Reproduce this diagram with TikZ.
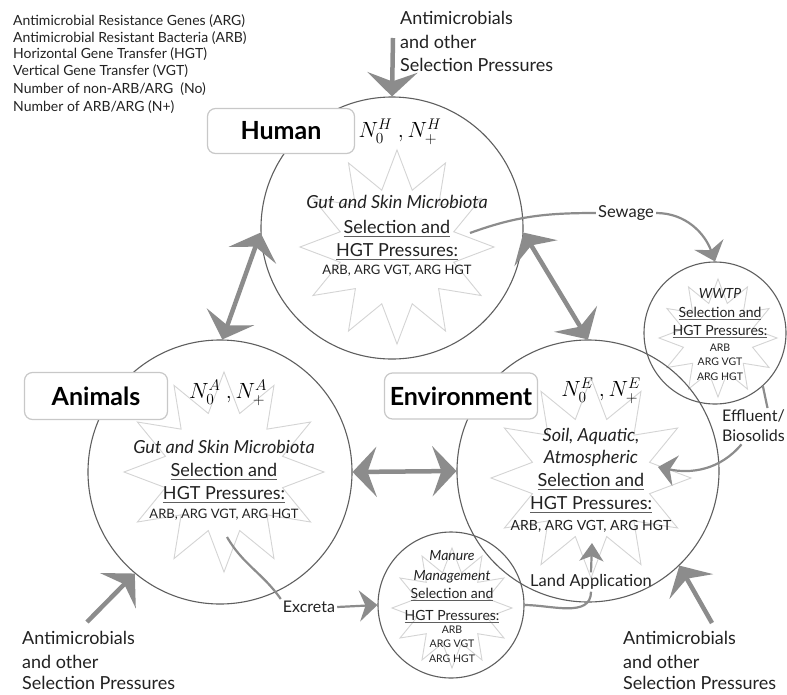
\RequirePackage{fix-cm}
\documentclass[tikz,border=0pt]{standalone}
\usepackage{fontspec}
\setmainfont{Lato}
\usetikzlibrary{arrows.meta,shapes.geometric}
\definecolor{agray}{RGB}{140,140,140}
\definecolor{cgray}{RGB}{95,95,95}
\definecolor{bgray}{RGB}{200,200,200}
\definecolor{sgray}{RGB}{212,212,212}
\definecolor{tcol}{RGB}{34,34,34}
\newcommand{\fsz}[1]{\fontsize{#1}{#1}\selectfont}
\newcommand{\ulbig}[1]{\leavevmode\setbox0\hbox{#1}\rlap{\color{cgray}\rule[-4pt]{\wd0}{1.3pt}}\box0}
\newcommand{\ulsmall}[1]{\leavevmode\setbox0\hbox{#1}\rlap{\color{cgray}\rule[-3pt]{\wd0}{1pt}}\box0}
\tikzset{
  bigarrow/.style={draw=agray,line width=4.5pt,-{Stealth[length=24pt,width=50pt,inset=9pt]}},
  bigdouble/.style={draw=agray,line width=4.5pt,{Stealth[length=24pt,width=50pt,inset=9pt]}-{Stealth[length=24pt,width=50pt,inset=9pt]}},
  flow/.style={draw=agray,line width=2.2pt,-{Stealth[length=18pt,width=31pt,inset=6pt]}},
  flowsmall/.style={draw=agray,line width=2.2pt,-{Stealth[length=18pt,width=24pt,inset=5pt]}},
  flowline/.style={draw=agray,line width=2.2pt},
  ring/.style={circle,draw=cgray,line width=1.1pt,inner sep=0pt},
  burst/.style={star,star points=12,star point ratio=1.65,draw=sgray,line width=0.9pt,inner sep=0pt},
  tag/.style={rounded corners=8pt,draw=bgray,line width=1.2pt,fill=white,inner sep=0pt,font=\fsz{25}\bfseries,text=black},
  lbl/.style={anchor=base,inner sep=0pt,text=tcol},
  lblw/.style={anchor=base west,inner sep=0pt,text=tcol},
  nlab/.style={inner sep=0pt,text=black,font=\fsz{22}},
  conn/.style={inner sep=2pt,text=tcol,font=\fsz{16.5}},
}
\begin{document}
\begin{tikzpicture}[x=1pt,y=-1pt]
\path[use as bounding box,fill=white] (0,0) rectangle (787,694);

% stars
\node[burst,minimum size=194pt] (hstar) at (397,247) {};
\node[burst,minimum size=200pt] (astar) at (224,472) {};
\node[burst,minimum size=200pt] (estar) at (591,478) {};
\node[burst,minimum size=118pt] (wstar) at (718,338) {};
\node[burst,minimum size=120pt] (mstar) at (452,608) {};

% circles
\node[ring,minimum size=262pt] (human) at (392,228) {};
\node[ring,minimum size=264pt] (animals) at (220,472) {};
\node[ring,minimum size=262pt] (env) at (588,471) {};
\node[ring,minimum size=142pt] (wwtp) at (715,333) {};
\node[ring,minimum size=146pt] (manure) at (451,605) {};

% boxes
\node[tag,minimum width=147pt,minimum height=45pt] (hbox) at (281,131) {Human};
\node[tag,minimum width=143pt,minimum height=47pt] (abox) at (96,396) {Animals};
\node[tag,minimum width=153pt,minimum height=46pt] (ebox) at (461,396) {Environment};

% N labels
\node[nlab] (hn) at (400,132) {$N_0^H\ ,N_+^H$};
\node[nlab] (an) at (228,393) {$N_0^A\ ,N_+^A$};
\node[nlab] (en) at (601,391) {$N_0^E\ ,N_+^E$};

% human text
\node[lbl,font=\fsz{18}\itshape] (h1) at (397,208) {Gut and Skin Microbiota};
\node[lbl,font=\fsz{18}] (h2) at (397,233) {\ulbig{Selection and}};
\node[lbl,font=\fsz{18}] (h3) at (397,256) {\ulbig{HGT Pressures:}};
\node[lbl,font=\fsz{13}] (h4) at (397,274) {ARB, ARG VGT, ARG HGT};

% animals text
\node[lbl,font=\fsz{18}\itshape] (a1) at (224,453) {Gut and Skin Microbiota};
\node[lbl,font=\fsz{18}] (a2) at (224,476) {\ulbig{Selection and}};
\node[lbl,font=\fsz{18}] (a3) at (224,499) {\ulbig{HGT Pressures:}};
\node[lbl,font=\fsz{13}] (a4) at (224,518) {ARB, ARG VGT, ARG HGT};

% environment text
\node[lbl,font=\fsz{18}\itshape] (e1) at (591,441) {Soil, Aquatic,};
\node[lbl,font=\fsz{18}\itshape] (e2) at (591,463) {Atmospheric};
\node[lbl,font=\fsz{18}] (e3) at (591,486) {\ulbig{Selection and}};
\node[lbl,font=\fsz{18}] (e4) at (591,509) {\ulbig{HGT Pressures:}};
\node[lbl,font=\fsz{14}] (e5) at (591,530) {ARB, ARG VGT, ARG HGT};

% wwtp text
\node[lbl,font=\fsz{14}\itshape] (w1) at (720,298) {WWTP};
\node[lbl,font=\fsz{14}] (w2) at (720,317) {\ulsmall{Selection and}};
\node[lbl,font=\fsz{14}] (w3) at (720,335) {\ulsmall{HGT Pressures:}};
\node[lbl,font=\fsz{10.5}] (w4) at (720,351) {ARB};
\node[lbl,font=\fsz{10.5}] (w5) at (720,365) {ARG VGT};
\node[lbl,font=\fsz{10.5}] (w6) at (720,380) {ARG HGT};

% manure text
\node[lbl,font=\fsz{14}\itshape] (m1) at (452,560) {Manure};
\node[lbl,font=\fsz{14}\itshape] (m2) at (452,580) {Management};
\node[lbl,font=\fsz{14}] (m3) at (452,598) {\ulsmall{Selection and}};
\node[lbl,font=\fsz{14}] (m4) at (452,620) {\ulsmall{HGT Pressures:}};
\node[lbl,font=\fsz{10.5}] (m5) at (452,633) {ARB};
\node[lbl,font=\fsz{10.5}] (m6) at (452,647) {ARG VGT};
\node[lbl,font=\fsz{10.5}] (m7) at (452,662) {ARG HGT};

% legend
\node[lblw,font=\fsz{14}] (g1) at (13,25) {Antimicrobial Resistance Genes (ARG)};
\node[lblw,font=\fsz{14}] (g2) at (13,42.5) {Antimicrobial Resistant Bacteria (ARB)};
\node[lblw,font=\fsz{14}] (g3) at (13,58.5) {Horizontal Gene Transfer (HGT)};
\node[lblw,font=\fsz{14}] (g4) at (13,75.5) {Vertical Gene Transfer (VGT)};
\node[lblw,font=\fsz{14}] (g5) at (13,93) {Number of non-ARB/ARG\ \ (No)};
\node[lblw,font=\fsz{14}] (g6) at (13,111) {Number of ARB/ARG (N+)};

% pressure labels
\node[lblw,font=\fsz{18}] (t1) at (400,24.5) {Antimicrobials};
\node[lblw,font=\fsz{18}] (t2) at (400,48.5) {and other};
\node[lblw,font=\fsz{18}] (t3) at (400,71.5) {Selection Pressures};
\node[lblw,font=\fsz{18}] (l1) at (22,644.5) {Antimicrobials};
\node[lblw,font=\fsz{18}] (l2) at (22,668.5) {and other};
\node[lblw,font=\fsz{18}] (l3) at (22,689.5) {Selection Pressures};
\node[lblw,font=\fsz{18}] (r1) at (623,644.5) {Antimicrobials};
\node[lblw,font=\fsz{18}] (r2) at (623,668.5) {and other};
\node[lblw,font=\fsz{18}] (r3) at (623,689.5) {Selection Pressures};

% connector labels
\node[conn] (sew) at (626,213) {Sewage};
\node[conn,anchor=north west,align=left,font=\fsz{16}\linespread{1.25}\selectfont] (eff) at (720,408) {Effluent/\\Biosolids};
\node[conn,font=\fsz{16}] (exc) at (309,607) {Excreta};
\node[conn] (land) at (591,582) {Land Application};

% coordinates for free ends
\coordinate (topsrc) at (393,38);
\coordinate (blsrc) at (87,622);
\coordinate (brsrc) at (712,623);
\coordinate (hsew) at (470,233);
\coordinate (aexc) at (227,537);
\coordinate (efftip) at (658,467);
\coordinate (landtip) at (592,543);

% big arrows
\draw[bigarrow] (topsrc) -- (human.north);
\draw[bigarrow] (blsrc) -- (animals.230);
\draw[bigarrow] (brsrc) -- (env.-46);
\draw[bigdouble] (human.182) -- (animals.89);
\draw[bigdouble] (human.-2) -- (env.90);
\draw[bigdouble] (animals.0) -- (env.180);

% flows
\draw[flowline] (hsew) to[out=20,in=180] (sew.west);
\draw[flow] (sew.east) to[out=0,in=110] (wwtp.north);
\draw[flowline] (wwtp.-48) -- ([xshift=14pt]eff.north);
\draw[flow] ([xshift=-12pt]eff.south) to[out=-130,in=-12] (efftip);
\draw[flowline] (aexc) to[out=-60,in=125] (exc.north west);
\draw[flow] (exc.east) -- (manure.west);
\draw[flowline] (manure.east) to[out=0,in=-90] (land.south);
\draw[flowsmall] (land.north) -- (landtip);
\end{tikzpicture}
\end{document}
